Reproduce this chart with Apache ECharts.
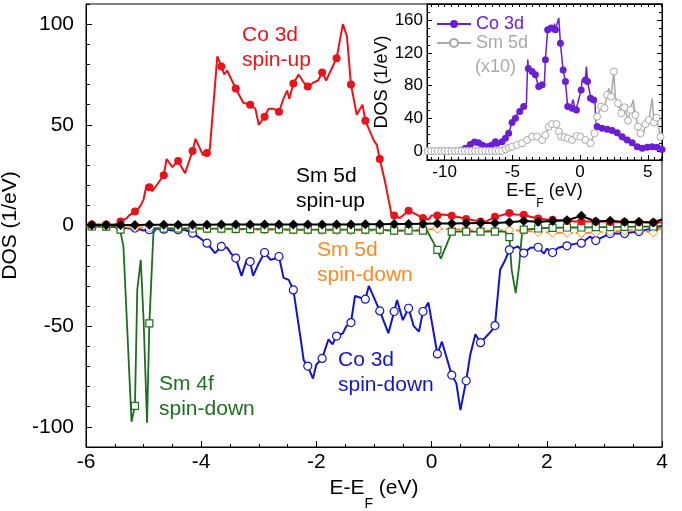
<!DOCTYPE html>
<html lang="en">
<head>
<meta charset="UTF-8">
<title>DOS</title>
<style>
    html, body { margin: 0; padding: 0; background: #fff; }
    #chartmain { width: 682px; height: 511px; }
</style>
</head>
<body>
<div id="chartmain"></div>
<script src="https://cdn.jsdelivr.net/npm/echarts@6.0.0/dist/echarts.min.js"></script>
<script type="text/javascript">
    var red = '#e8141b', blue = '#1414cc', green = '#1f6e1f', orange = '#ff8a1f',
        purple = '#6a1fd4', gray = '#a9a9a9';
    var font = 'Liberation Sans';

    // main panel: E-EF (eV) vs DOS (1/eV)
    var mainYTicks = [-100, -50, 0, 50, 100];

    // Co 3d spin-up: line vertices + filled-circle markers
    var coUp = [[-6, 0.5], [-5.5, 0.6], [-5.45, 1], [-5.3, 3.5], [-5.25, 5], [-5.1, 8], [-5.05, 10], [-5, 13],
        [-4.95, 20], [-4.85, 17], [-4.75, 21], [-4.6, 33], [-4.5, 29], [-4.28, 26], [-4.1, 43], [-3.97, 35],
        [-3.85, 38], [-3.72, 84], [-3.6, 75], [-3.55, 77], [-3.27, 61], [-3.06, 58], [-3, 50], [-2.83, 58],
        [-2.75, 58], [-2.57, 63], [-2.51, 67], [-2.47, 63], [-2.31, 75], [-2.22, 71], [-2.05, 71], [-1.97, 72],
        [-1.83, 72], [-1.75, 77], [-1.54, 100], [-1.47, 94], [-1.3, 55], [-1.2, 60], [-1, 42], [-0.95, 40],
        [-0.81, 22], [-0.7, 6], [-0.55, 3.7], [-0.3, 6], [-0.05, 3], [0, 5], [0.2, 5.5], [0.5, 4], [0.75, 2.5],
        [0.95, 2], [1.2, 5], [1.45, 5.5], [1.7, 4.5], [2, 3], [2.5, 2], [3, 2], [3.5, 1.5], [4, 1.5]];
    var coUpMarks = [[-5.9, 0.5], [-5.65, 0.5], [-5.4, 2], [-5.15, 7], [-4.9, 19], [-4.65, 25], [-4.4, 32],
        [-4.15, 37], [-3.9, 36], [-3.65, 79], [-3.4, 68], [-3.15, 60], [-2.9, 54], [-2.65, 56.5], [-2.4, 70.5],
        [-2.15, 69], [-1.9, 76], [-1.65, 83], [-1.4, 70], [-1.15, 52], [-0.9, 33], [-0.65, 5], [-0.4, 7.3],
        [-0.15, 3.7], [0.1, 5], [0.35, 4.8], [0.6, 3.2], [0.85, 2], [1.1, 4.3], [1.35, 6.2], [1.6, 5.4],
        [1.85, 3.5], [2.1, 2.8], [2.35, 2.3], [2.6, 2], [2.85, 2], [3.1, 1.8], [3.35, 1.8], [3.6, 1.6], [3.85, 1.5]];

    // Co 3d spin-down: open circles
    var coDown = [[-6, 0], [-5.5, -0.3], [-5.4, -1], [-5.25, -1.5], [-5, -2.5], [-4.8, -1.5], [-4.5, -2.5],
        [-4.3, -2], [-4.02, -6.3], [-3.76, -13.7], [-3.55, -11], [-3.48, -14], [-3.3, -25], [-3.21, -17],
        [-3.1, -25], [-3, -18.7], [-2.8, -17], [-2.72, -16.5], [-2.57, -26], [-2.48, -27], [-2.28, -55],
        [-2.22, -67], [-2.06, -76], [-2, -69], [-1.79, -56.5], [-1.72, -59], [-1.54, -53.5], [-1.48, -50],
        [-1.33, -35], [-1.09, -30], [-0.75, -53.5], [-0.6, -37], [-0.5, -47], [-0.31, -50], [-0.22, -52.7],
        [-0.055, -38.3], [0.18, -57.7], [0.43, -78.4], [0.5, -91.7], [0.67, -64.3], [0.76, -54], [1.05, -52],
        [1.19, -22], [1.28, -17], [1.5, -10.4], [1.72, -11], [1.95, -14], [2, -11.5], [2.2, -11], [2.5, -9],
        [2.75, -5.5], [2.95, -6], [3.2, -4], [3.45, -3.5], [3.75, -2], [4, 0]];
    var coDownMarks = [[-5.9, -0.2], [-5.65, -0.3], [-5.4, -1], [-5.15, -1.3], [-4.9, -2.1], [-4.65, -1.8],
        [-4.4, -2.1], [-4.15, -3.8], [-3.9, -8.8], [-3.65, -10.4], [-3.4, -16.2], [-3.15, -17.9], [-2.9, -13.4],
        [-2.65, -15.4], [-2.4, -32], [-2.15, -69.8], [-1.9, -66], [-1.65, -54.9], [-1.4, -48.2], [-1.15, -36.6],
        [-0.9, -42.4], [-0.65, -42.7], [-0.4, -41.1], [-0.15, -42.7], [0.1, -63.8], [0.35, -74.3], [0.6, -77.1],
        [0.85, -58.2], [1.1, -49.7], [1.35, -12.1], [1.6, -13.7], [1.85, -10.8], [2.1, -13.4], [2.35, -10.1],
        [2.6, -8.8], [2.85, -7.5], [3.1, -4], [3.35, -4], [3.6, -3], [3.85, -1.5]];

    // Sm 4f spin-down: open squares
    var sm4fDown = [[-6, -0.5], [-5.5, -0.8], [-5.41, -2], [-5.35, -10.4], [-5.21, -97.5], [-5.15, -89.6],
        [-5.11, -32], [-5.05, -17], [-5, -47], [-4.94, -98], [-4.9, -48.6], [-4.83, -3.8], [-4.78, -1.5],
        [-4, -1.5], [-3, -1.8], [-2, -2], [-1, -2], [-0.5, -2.5], [-0.08, -2.5], [0.1, -12.1], [0.16, -16.5],
        [0.26, -9.6], [0.35, -3], [1.27, -3], [1.35, -5.8], [1.39, -22], [1.46, -33.6], [1.52, -20],
        [1.57, -3.8], [1.6, -2], [2, -1.2], [3, -0.8], [4, -0.5]];
    var sm4fDownMarks = [[-5.9, -0.5], [-5.65, -0.6], [-5.4, -2], [-5.15, -89.6], [-4.9, -48.6], [-4.65, -1.5],
        [-4.4, -1.5], [-4.15, -1.5], [-3.9, -1.6], [-3.65, -1.6], [-3.4, -1.7], [-3.15, -1.8], [-2.9, -1.8],
        [-2.65, -1.9], [-2.4, -2], [-2.15, -2], [-1.9, -2], [-1.65, -2], [-1.4, -2], [-1.15, -2], [-0.9, -2],
        [-0.65, -2.5], [-0.4, -2.5], [-0.15, -2.5], [0.1, -12.1], [0.35, -3], [0.6, -3], [0.85, -3], [1.1, -3],
        [1.35, -5.8], [1.6, -2], [1.85, -1.5], [2.1, -1.2], [2.35, -1], [2.6, -1], [2.85, -0.8], [3.1, -0.8],
        [3.35, -0.7], [3.6, -0.6], [3.85, -0.5]];

    // Sm 5d spin-down: dashed, open diamonds
    var sm5dDown = [[-6, -0.5], [4, -0.8]];
    var sm5dDownMarks = [[-5.9, -0.5], [-5.65, -0.6], [-5.4, -0.8], [-5.15, -1], [-4.9, -1.2], [-4.65, -1.3],
        [-4.4, -1.4], [-4.15, -1.5], [-3.9, -1.7], [-3.65, -1.8], [-3.4, -2], [-3.15, -2], [-2.9, -2],
        [-2.65, -2.1], [-2.4, -2.2], [-2.15, -2.2], [-1.9, -2.3], [-1.65, -2.3], [-1.4, -2.4], [-1.15, -2.4],
        [-0.9, -2.5], [-0.65, -2.6], [-0.4, -2.5], [-0.15, -2.2], [0.1, -1.6], [0.35, -1.8], [0.6, -2.2],
        [0.85, -2.5], [1.1, -2.5], [1.35, -2.2], [1.6, -2.6], [1.85, -3.2], [2.1, -3.6], [2.35, -3.6],
        [2.6, -3.8], [2.85, -3.4], [3.1, -2.9], [3.35, -2.5], [3.6, -2.3], [3.85, -3.5]];

    // Sm 5d spin-up: filled diamonds
    var sm5dUp = [[-6, 0.3], [4, 3]];
    var sm5dUpMarks = [[-5.9, 0.3], [-5.65, 0.3], [-5.4, 0.3], [-5.15, 0.3], [-4.9, 0.4], [-4.65, 0.4],
        [-4.4, 0.4], [-4.15, 0.4], [-3.9, 0.4], [-3.65, 0.5], [-3.4, 0.5], [-3.15, 0.5], [-2.9, 0.5],
        [-2.65, 0.5], [-2.4, 0.5], [-2.15, 0.5], [-1.9, 0.5], [-1.65, 0.5], [-1.4, 0.5], [-1.15, 0.6],
        [-0.9, 0.6], [-0.65, 0.8], [-0.4, 0.8], [-0.15, 0.9], [0.1, 1], [0.35, 1], [0.6, 1.1], [0.85, 1.2],
        [1.1, 1.3], [1.35, 1.6], [1.6, 2.2], [1.85, 1.9], [2.1, 2.2], [2.35, 2.6], [2.6, 4.8], [2.85, 2],
        [3.1, 2.3], [3.35, 1.8], [3.6, 1.9], [3.85, 1.5]];

    // inset: total Co 3d and Sm 5d (x10)
    var insetXTicks = [-10, -5, 0, 5];
    var insetYTicks = [0, 40, 80, 120, 160];

    var coTot = [[-11.3, 0], [-9.2, 0], [-8.9, 1], [-8.47, 3.3], [-8.1, 8], [-7.61, 11.4], [-7.3, 8],
        [-6.87, 5.3], [-6.62, 6.1], [-6.25, 11.4], [-6.13, 9.4], [-5.64, 13.5], [-5.27, 20.9], [-5.02, 36],
        [-4.77, 40], [-4.53, 50], [-4.16, 55], [-3.96, 58.5], [-3.86, 112], [-3.82, 101], [-3.54, 97],
        [-3.3, 93], [-3.05, 78], [-2.8, 81], [-2.63, 84], [-2.56, 112], [-2.39, 148.5], [-2.19, 152.5],
        [-1.99, 146], [-1.89, 156], [-1.74, 148.5], [-1.57, 163], [-1.45, 132], [-1.25, 99], [-1.08, 85],
        [-0.91, 54], [-0.71, 52], [-0.51, 63], [-0.34, 48], [-0.17, 58.5], [0.08, 75], [0.15, 87], [0.4, 89],
        [0.47, 103.5], [0.64, 84.4], [0.77, 66.6], [1.01, 62.5], [1.1, 60], [1.19, 32], [1.51, 30],
        [1.88, 27.8], [2.25, 25.8], [2.62, 23.7], [2.99, 15.5], [3.48, 11.5], [3.97, 7.4], [4.41, 2],
        [4.96, 4.5], [5.45, 5.3], [5.94, 2], [6.05, 1.5]];
    var coTotMarks = [[-8.8, 1], [-8.47, 3.3], [-8.1, 8], [-7.8, 11], [-7.5, 10], [-7.2, 7], [-6.87, 5.3],
        [-6.55, 7], [-6.25, 11.4], [-6.13, 9.4], [-5.76, 11.4], [-5.51, 15.5], [-5.27, 21.7], [-5.02, 34.8],
        [-4.77, 40.1], [-4.45, 48.3], [-4.16, 54.4], [-3.82, 101], [-3.54, 97.3], [-3.3, 93.3], [-3.05, 78.9],
        [-2.8, 81], [-2.56, 111.6], [-2.39, 148.5], [-2.14, 150.5], [-1.82, 148.5], [-1.45, 132], [-1.25, 99.3],
        [-1.08, 85], [-0.91, 54.4], [-0.59, 52.4], [-0.27, 50.3], [0.08, 74.8], [0.4, 87.1], [0.55, 85],
        [0.77, 64.6], [1.01, 62.5], [1.26, 29.9], [1.63, 27.8], [2, 26.6], [2.37, 25], [2.74, 22.5],
        [3.11, 17.6], [3.48, 13.5], [3.85, 10.2], [4.22, 5.3], [4.59, 3.3], [4.96, 4.5], [5.33, 5.3],
        [5.7, 4.5], [6.05, 2]];

    var sm5dTot = [[-11.3, 0], [-5.9, 0], [-5.5, 2], [-5.25, 4], [-5.02, 5.3], [-4.65, 7.4], [-4.28, 9.4],
        [-3.91, 13.5], [-3.54, 17.6], [-3.17, 17.6], [-2.8, 13.5], [-2.56, 19.6], [-2.31, 29.8], [-2.07, 33],
        [-1.74, 33], [-1.57, 24], [-1.4, 17.6], [-1.15, 17], [-0.91, 15.5], [-0.59, 13.5], [-0.27, 18.4],
        [0.03, 17.6], [0.4, 13.5], [0.77, 9.4], [1.06, 21.7], [1.26, 42], [1.56, 54.4], [1.8, 52.4], [2, 68.7],
        [2.12, 77], [2.29, 66.6], [2.49, 97.3], [2.6, 66], [2.79, 58.5], [3.04, 46.2], [3.28, 53.6],
        [3.53, 37.2], [3.72, 50.3], [3.92, 62.6], [4.09, 44], [4.27, 30], [4.46, 21.7], [4.66, 19.6],
        [4.83, 33], [5.08, 37.9], [5.33, 64.6], [5.45, 34.9], [5.65, 40.9], [5.94, 17.6]];
    var sm5dTotMarks = [[-11.25, 0], [-11, 0], [-10.75, 0], [-10.5, 0], [-10.25, 0], [-10, 0], [-9.75, 0],
        [-9.5, 0], [-9.25, 0], [-9, 0], [-8.75, 0], [-8.5, 0], [-8.25, 0], [-8, 0], [-7.75, 0], [-7.5, 0],
        [-7.25, 0], [-7, 0], [-6.75, 0], [-6.5, 0], [-6.25, 0], [-6, 0], [-5.75, 0.3], [-5.5, 2], [-5.25, 4],
        [-5.02, 5.3], [-4.65, 7.4], [-4.28, 9.4], [-3.91, 13.5], [-3.54, 17.6], [-3.17, 17.6], [-2.8, 13.5],
        [-2.56, 19.6], [-2.31, 29.8], [-2.07, 33], [-1.74, 33], [-1.57, 24], [-1.4, 17.6], [-1.15, 17],
        [-0.91, 15.5], [-0.59, 13.5], [-0.27, 18.4], [0.03, 17.6], [0.4, 13.5], [0.77, 9.4], [1.06, 21.7],
        [1.26, 42], [1.56, 54.4], [1.8, 52.4], [2, 68.7], [2.29, 66.6], [2.49, 97.3], [2.79, 58.5],
        [3.04, 46.2], [3.28, 53.6], [3.53, 37.2], [3.72, 50.3], [4.09, 44], [4.27, 30], [4.46, 21.7],
        [4.83, 33], [5.08, 37.9], [5.45, 34.9], [5.65, 40.9], [5.94, 17.6]];

    // minor tick positions for the inset axes
    var insetXMinor = [], insetYMinor = [];
    for (var t = -11; t <= 6; t += 0.5) insetXMinor.push(t);
    for (var u = -10; u <= 180; u += 10) insetYMinor.push(u);

    // line vertices without symbol, marker points with symbol
    function withMarks(line, marks) {
        var pts = line.map(function (p) { return { value: p, symbol: 'none' }; });
        marks.forEach(function (p) { pts.push({ value: p }); });
        pts.sort(function (a, b) { return a.value[0] - b.value[0]; });
        return pts;
    }

    var black = '#000';
    var rich = function (big, small, drop) {
        return {
            n: { fontSize: big, lineHeight: big, verticalAlign: 'top', color: black, fontFamily: font },
            s: { fontSize: small, lineHeight: small, verticalAlign: 'top', padding: [drop, 0, 0, 0], color: black, fontFamily: font }
        };
    };

    function insetAxis(dim, pos, ticks, len, labels) {
        var ax = {
            type: 'value', gridIndex: 1, position: pos,
            min: dim === 'x' ? -11.3 : -11,
            max: dim === 'x' ? 6.05 : 180,
            axisLine: { onZero: false, lineStyle: { color: black } },
            axisTick: { inside: true, length: len, customValues: ticks, lineStyle: { color: black } },
            axisLabel: { show: false },
            splitLine: { show: false }
        };
        if (labels) {
            ax.axisLabel = { show: true, customValues: ticks, fontSize: 17, color: black, margin: 4, fontFamily: font };
        }
        return ax;
    }

    var xb = insetAxis('x', 'bottom', insetXTicks, 5, true);
    xb.name = '{n|E-E}{s|F}{n| (eV)}';
    xb.nameLocation = 'middle';
    xb.nameGap = 17;
    xb.nameTextStyle = { rich: rich(18, 12, 16) };
    var yl = insetAxis('y', 'left', insetYTicks, 5, true);
    yl.name = 'DOS (1/eV)';
    yl.nameLocation = 'middle';
    yl.nameGap = 31;
    yl.nameTextStyle = { fontSize: 18, color: black, fontFamily: font };

    var mychart = echarts.init(document.getElementById('chartmain'));
    var option = {
        animation: false,
        backgroundColor: '#fff',
        textStyle: { fontFamily: font },
        grid: [
            { left: 86, right: 20, top: 4, bottom: 64, show: true, borderColor: black, borderWidth: 1, outerBoundsMode: 'none' },
            { left: 427, right: 20, top: 4, bottom: 351, show: true, borderColor: black, borderWidth: 1, backgroundColor: '#fff', outerBoundsMode: 'none' }
        ],
        legend: {
            data: [{ name: 'Co 3d', textStyle: { color: purple } }, { name: 'Sm 5d', textStyle: { color: gray } }],
            orient: 'vertical', left: 436, top: 15, itemWidth: 34, itemHeight: 10, itemGap: 1, padding: 0,
            selectedMode: false,
            textStyle: { fontSize: 18, fontFamily: font }
        },
        xAxis: [
            {
                type: 'value', gridIndex: 0, position: 'bottom', min: -6, max: 4, interval: 2,
                axisLine: { onZero: false, lineStyle: { color: black } },
                axisTick: { inside: true, length: 6, lineStyle: { color: black } },
                minorTick: { show: true, splitNumber: 4, length: 3, lineStyle: { color: black } },
                axisLabel: { fontSize: 21, color: black, margin: 5, fontFamily: font },
                splitLine: { show: false },
                name: '{n|E-E}{s|F}{n| (eV)}', nameLocation: 'middle', nameGap: 29,
                nameTextStyle: { rich: rich(21, 14, 19) }
            },
            insetAxis('x', 'bottom', insetXMinor, 3, false),
            xb,
            insetAxis('x', 'top', insetXMinor, 3, false)
        ],
        yAxis: [
            {
                type: 'value', gridIndex: 0, position: 'left', min: -110, max: 110, interval: 10,
                axisLine: { onZero: false, lineStyle: { color: black } },
                axisTick: { inside: true, length: 4, lineStyle: { color: black } },
                axisLabel: { show: false },
                splitLine: { show: false }
            },
            {
                type: 'value', gridIndex: 0, position: 'left', min: -110, max: 110,
                axisLine: { onZero: false, lineStyle: { color: black } },
                axisTick: { inside: true, length: 6, customValues: mainYTicks, lineStyle: { color: black } },
                axisLabel: { customValues: mainYTicks, fontSize: 21, color: black, margin: 12, fontFamily: font },
                splitLine: { show: false },
                name: 'DOS (1/eV)', nameLocation: 'middle', nameGap: 51,
                nameTextStyle: { fontSize: 21, color: black, fontFamily: font }
            },
            insetAxis('y', 'left', insetYMinor, 3, false),
            yl,
            insetAxis('y', 'right', insetYMinor, 3, false),
            insetAxis('y', 'right', insetYTicks, 5, false)
        ],
        graphic: [
            { type: 'text', left: 242, top: 23, style: { text: 'Co 3d\nspin-up', fill: red, fontSize: 21, fontFamily: font, lineHeight: 25 } },
            { type: 'text', left: 296, top: 164, style: { text: 'Sm 5d\nspin-up', fill: black, fontSize: 21, fontFamily: font, lineHeight: 25 } },
            { type: 'text', left: 317, top: 238, style: { text: 'Sm 5d\nspin-down', fill: orange, fontSize: 21, fontFamily: font, lineHeight: 25 } },
            { type: 'text', left: 159, top: 372, style: { text: 'Sm 4f\nspin-down', fill: green, fontSize: 21, fontFamily: font, lineHeight: 25 } },
            { type: 'text', left: 338, top: 348, style: { text: 'Co 3d\nspin-down', fill: blue, fontSize: 21, fontFamily: font, lineHeight: 25 } },
            { type: 'text', left: 475, top: 58, style: { text: '(x10)', fill: gray, fontSize: 18, fontFamily: font } }
        ],
        series: [
            {
                name: 'Co 3d spin-down', type: 'line', xAxisIndex: 0, yAxisIndex: 1,
                data: withMarks(coDown, coDownMarks),
                symbol: 'circle', symbolSize: 8,
                itemStyle: { color: '#fff', borderColor: blue, borderWidth: 1.2 },
                lineStyle: { color: blue, width: 2 }
            },
            {
                name: 'Sm 5d spin-down', type: 'line', xAxisIndex: 0, yAxisIndex: 1,
                data: withMarks(sm5dDown, sm5dDownMarks),
                symbol: 'diamond', symbolSize: 9,
                itemStyle: { color: '#fff', borderColor: orange, borderWidth: 1 },
                lineStyle: { color: orange, width: 2, type: [7, 3] }
            },
            {
                name: 'Sm 4f spin-down', type: 'line', xAxisIndex: 0, yAxisIndex: 1,
                data: withMarks(sm4fDown, sm4fDownMarks),
                symbol: 'rect', symbolSize: 7,
                itemStyle: { color: '#fff', borderColor: green, borderWidth: 1.2 },
                lineStyle: { color: green, width: 1.8 }
            },
            {
                name: 'Co 3d spin-up', type: 'line', xAxisIndex: 0, yAxisIndex: 1,
                data: withMarks(coUp, coUpMarks),
                symbol: 'circle', symbolSize: 8,
                itemStyle: { color: red },
                lineStyle: { color: red, width: 2 }
            },
            {
                name: 'Sm 5d spin-up', type: 'line', xAxisIndex: 0, yAxisIndex: 1,
                data: withMarks(sm5dUp, sm5dUpMarks),
                symbol: 'diamond', symbolSize: 10,
                itemStyle: { color: black },
                lineStyle: { color: black, width: 2 }
            },
            {
                name: 'Co 3d', type: 'line', xAxisIndex: 2, yAxisIndex: 3,
                data: withMarks(coTot, coTotMarks),
                symbol: 'circle', symbolSize: 7,
                itemStyle: { color: purple },
                lineStyle: { color: purple, width: 1.5 }
            },
            {
                name: 'Sm 5d', type: 'line', xAxisIndex: 2, yAxisIndex: 3,
                data: withMarks(sm5dTot, sm5dTotMarks),
                symbol: 'circle', symbolSize: 7,
                itemStyle: { color: '#fff', borderColor: gray, borderWidth: 1 },
                lineStyle: { color: gray, width: 1.5 }
            }
        ]
    };
    mychart.setOption(option, true);
</script>
</body>
</html>
